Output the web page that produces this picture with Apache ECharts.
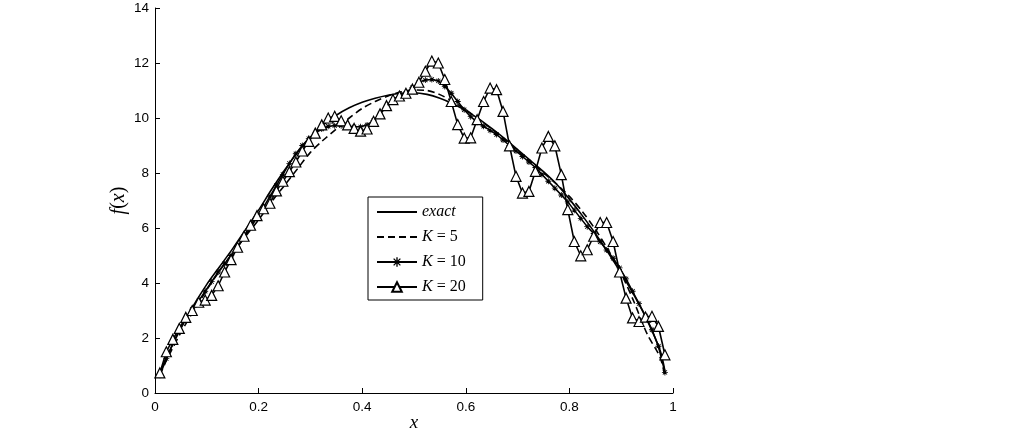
<!DOCTYPE html>
<html>
<head>
<meta charset="utf-8">
<script src="https://cdn.jsdelivr.net/npm/echarts@6/dist/echarts.min.js"></script>
<style>
html,body{margin:0;padding:0;background:#fff;}
#chart{width:1024px;height:437px;}
</style>
</head>
<body>
<div id="chart"></div>
<script>
// x positions of the K=10 / K=20 samples
var xFine = [0.0094,0.0219,0.0344,0.0469,0.0594,0.0719,0.0844,0.0969,0.1094,0.1219,
  0.1344,0.1469,0.1594,0.1719,0.1844,0.1969,0.2094,0.2219,0.2344,0.2469,
  0.2594,0.2719,0.2844,0.2969,0.3094,0.3219,0.3344,0.3469,0.3594,0.3719,
  0.3844,0.3969,0.4094,0.4219,0.4344,0.4469,0.4594,0.4719,0.4844,0.4969,
  0.5094,0.5219,0.5344,0.5469,0.5594,0.5719,0.5844,0.5969,0.6094,0.6219,
  0.6344,0.6469,0.6594,0.6719,0.6844,0.6969,0.7094,0.7219,0.7344,0.7469,
  0.7594,0.7719,0.7844,0.7969,0.8094,0.8219,0.8344,0.8469,0.8594,0.8719,
  0.8844,0.8969,0.9094,0.9219,0.9344,0.9469,0.9594,0.9719,0.9844];
// x positions of the exact / K=5 curves
var xCoarse = [0.0094,0.025,0.05,0.075,0.1,0.125,0.15,0.175,0.2,0.225,
  0.25,0.275,0.3,0.325,0.35,0.375,0.4,0.425,0.45,0.475,
  0.5,0.525,0.55,0.575,0.6,0.625,0.65,0.675,0.7,0.725,
  0.75,0.775,0.8,0.825,0.85,0.875,0.9,0.925,0.95,0.975,0.9844];

var exactVals = [0.75,1.4,2.35,3.2,3.95,4.6,5.25,5.95,6.65,7.4,
  8.1,8.75,9.3,9.75,10.1,10.37,10.57,10.72,10.83,10.9,
  10.92,10.86,10.72,10.52,10.27,9.97,9.62,9.25,8.85,8.45,
  8.05,7.6,7.05,6.45,5.8,5.1,4.35,3.55,2.65,1.55,0.8];
var k5Vals = [0.65,1.3,2.2,3.0,3.75,4.45,5.1,5.7,6.3,6.95,
  7.55,8.15,8.75,9.2,9.6,10.0,10.35,10.6,10.8,10.95,
  11.02,11.0,10.85,10.6,10.3,9.95,9.6,9.2,8.8,8.4,
  8.0,7.6,7.15,6.6,5.95,5.2,4.35,3.3,2.15,1.3,0.6];
var k10Vals = [0.65,1.25,1.8,2.3,2.7,3.05,3.35,3.7,4.05,4.4,
  4.7,5.0,5.3,5.65,6.0,6.4,6.75,7.15,7.55,7.95,
  8.35,8.7,9.0,9.25,9.45,9.6,9.7,9.72,9.72,9.7,
  9.68,9.68,9.75,9.9,10.15,10.4,10.6,10.75,10.9,11.1,
  11.3,11.38,11.4,11.35,11.15,10.9,10.6,10.3,10.05,9.85,
  9.7,9.55,9.4,9.2,9.0,8.8,8.6,8.4,8.2,7.95,
  7.7,7.45,7.2,6.95,6.65,6.35,6.05,5.8,5.5,5.2,
  4.9,4.55,4.15,3.7,3.25,2.8,2.3,1.7,0.75];
var k20Vals = [0.73,1.5,1.95,2.35,2.75,3.0,3.3,3.38,3.55,3.9,
  4.4,4.85,5.3,5.7,6.1,6.45,6.7,6.9,7.35,7.7,
  8.05,8.4,8.8,9.15,9.45,9.75,10.0,10.06,9.9,9.75,
  9.62,9.52,9.6,9.88,10.15,10.45,10.67,10.8,10.9,11.05,
  11.3,11.7,12.07,12.0,11.4,10.6,9.76,9.27,9.28,9.94,
  10.6,11.09,11.03,10.24,8.99,7.88,7.27,7.33,8.06,8.91,
  9.33,8.99,7.94,6.67,5.51,4.99,5.21,5.7,6.2,6.2,
  5.51,4.4,3.45,2.73,2.6,2.76,2.79,2.42,1.39];

var xTicks = [0, 0.2, 0.4, 0.6, 0.8, 1];
var yTicks = [0, 2, 4, 6, 8, 10, 12, 14];

function pairs(xs, ys) {
  var out = [];
  for (var i = 0; i < ys.length; i++) out.push([xs[i], ys[i]]);
  return out;
}

var asterisk = 'path://M-0.7,-5L0.7,-5L0.7,5L-0.7,5Z M-5,-0.7L5,-0.7L5,0.7L-5,0.7Z M-4,-3L-3,-4L4,3L3,4Z M3,-4L4,-3L-3,4L-4,3Z';

var chart = echarts.init(document.getElementById('chart'), null, {renderer: 'canvas'});
var serif = '"Liberation Serif", "DejaVu Serif", serif';
var sans = '"Liberation Sans", Arial, sans-serif';

chart.setOption({
  animation: false,
  backgroundColor: '#fff',
  grid: {left: 155, right: 351, top: 8, bottom: 44, containLabel: false, outerBoundsMode: 'none'},
  xAxis: {
    type: 'value', min: xTicks[0], max: xTicks[xTicks.length - 1], interval: 0.2,
    axisLine: {show: true, lineStyle: {color: '#000', width: 1}},
    axisTick: {show: true, inside: true, length: 5, lineStyle: {color: '#000'}},
    axisLabel: {color: '#000', fontFamily: sans, fontSize: 13.5, margin: 7},
    splitLine: {show: false},
    name: 'x', nameLocation: 'middle', nameGap: 20, nameMoveOverlap: false,
    nameTextStyle: {fontFamily: serif, fontStyle: 'italic', fontSize: 19, color: '#000'}
  },
  yAxis: {
    type: 'value', min: yTicks[0], max: yTicks[yTicks.length - 1], interval: 2,
    axisLine: {show: true, lineStyle: {color: '#000', width: 1}},
    axisTick: {show: true, inside: true, length: 5, lineStyle: {color: '#000'}},
    axisLabel: {color: '#000', fontFamily: sans, fontSize: 13.5, margin: 6},
    splitLine: {show: false},
    name: '{i|f}{n|(}{i|x}{n|)}', nameLocation: 'middle', nameGap: 26, nameMoveOverlap: false,
    nameTextStyle: {
      color: '#000',
      rich: {
        i: {fontFamily: serif, fontStyle: 'italic', fontSize: 20, color: '#000'},
        n: {fontFamily: serif, fontSize: 20, color: '#000'}
      }
    }
  },
  legend: {
    orient: 'vertical', left: 368, top: 197,
    itemWidth: 40, itemHeight: 12, itemGap: 9,
    padding: [7, 17, 5, 8],
    borderColor: '#000', borderWidth: 1, borderRadius: 0, backgroundColor: '#fff',
    data: [
      {name: 'exact', itemStyle: {opacity: 0}},
      {name: 'K = 5', itemStyle: {opacity: 0}},
      {name: 'K = 10'},
      {name: 'K = 20'}
    ],
    formatter: function (name) {
      if (name === 'exact') return '{i|exact}';
      return '{i|K}{n| = ' + name.split('= ')[1] + '}';
    },
    textStyle: {
      color: '#000', fontFamily: serif, fontSize: 16,
      rich: {
        i: {fontFamily: serif, fontStyle: 'italic', fontSize: 16, color: '#000'},
        n: {fontFamily: serif, fontSize: 16, color: '#000'}
      }
    }
  },
  series: [
    {
      name: 'exact', type: 'line', data: pairs(xCoarse, exactVals),
      smooth: 0.3, symbol: 'none',
      lineStyle: {color: '#000', width: 1.6, type: 'solid'},
      itemStyle: {color: '#000'}
    },
    {
      name: 'K = 5', type: 'line', data: pairs(xCoarse, k5Vals),
      smooth: 0.3, symbol: 'none',
      lineStyle: {color: '#000', width: 1.6, type: [7, 4]},
      itemStyle: {color: '#000'}
    },
    {
      name: 'K = 10', type: 'line', data: pairs(xFine, k10Vals),
      symbol: asterisk, symbolSize: 6,
      lineStyle: {color: '#000', width: 1.6},
      itemStyle: {color: '#000'}
    },
    {
      name: 'K = 20', type: 'line', data: pairs(xFine, k20Vals),
      symbol: 'triangle', symbolSize: 10,
      lineStyle: {color: '#000', width: 1.6},
      itemStyle: {color: '#fff', borderColor: '#000', borderWidth: 1.2}
    }
  ]
});
</script>
</body>
</html>
